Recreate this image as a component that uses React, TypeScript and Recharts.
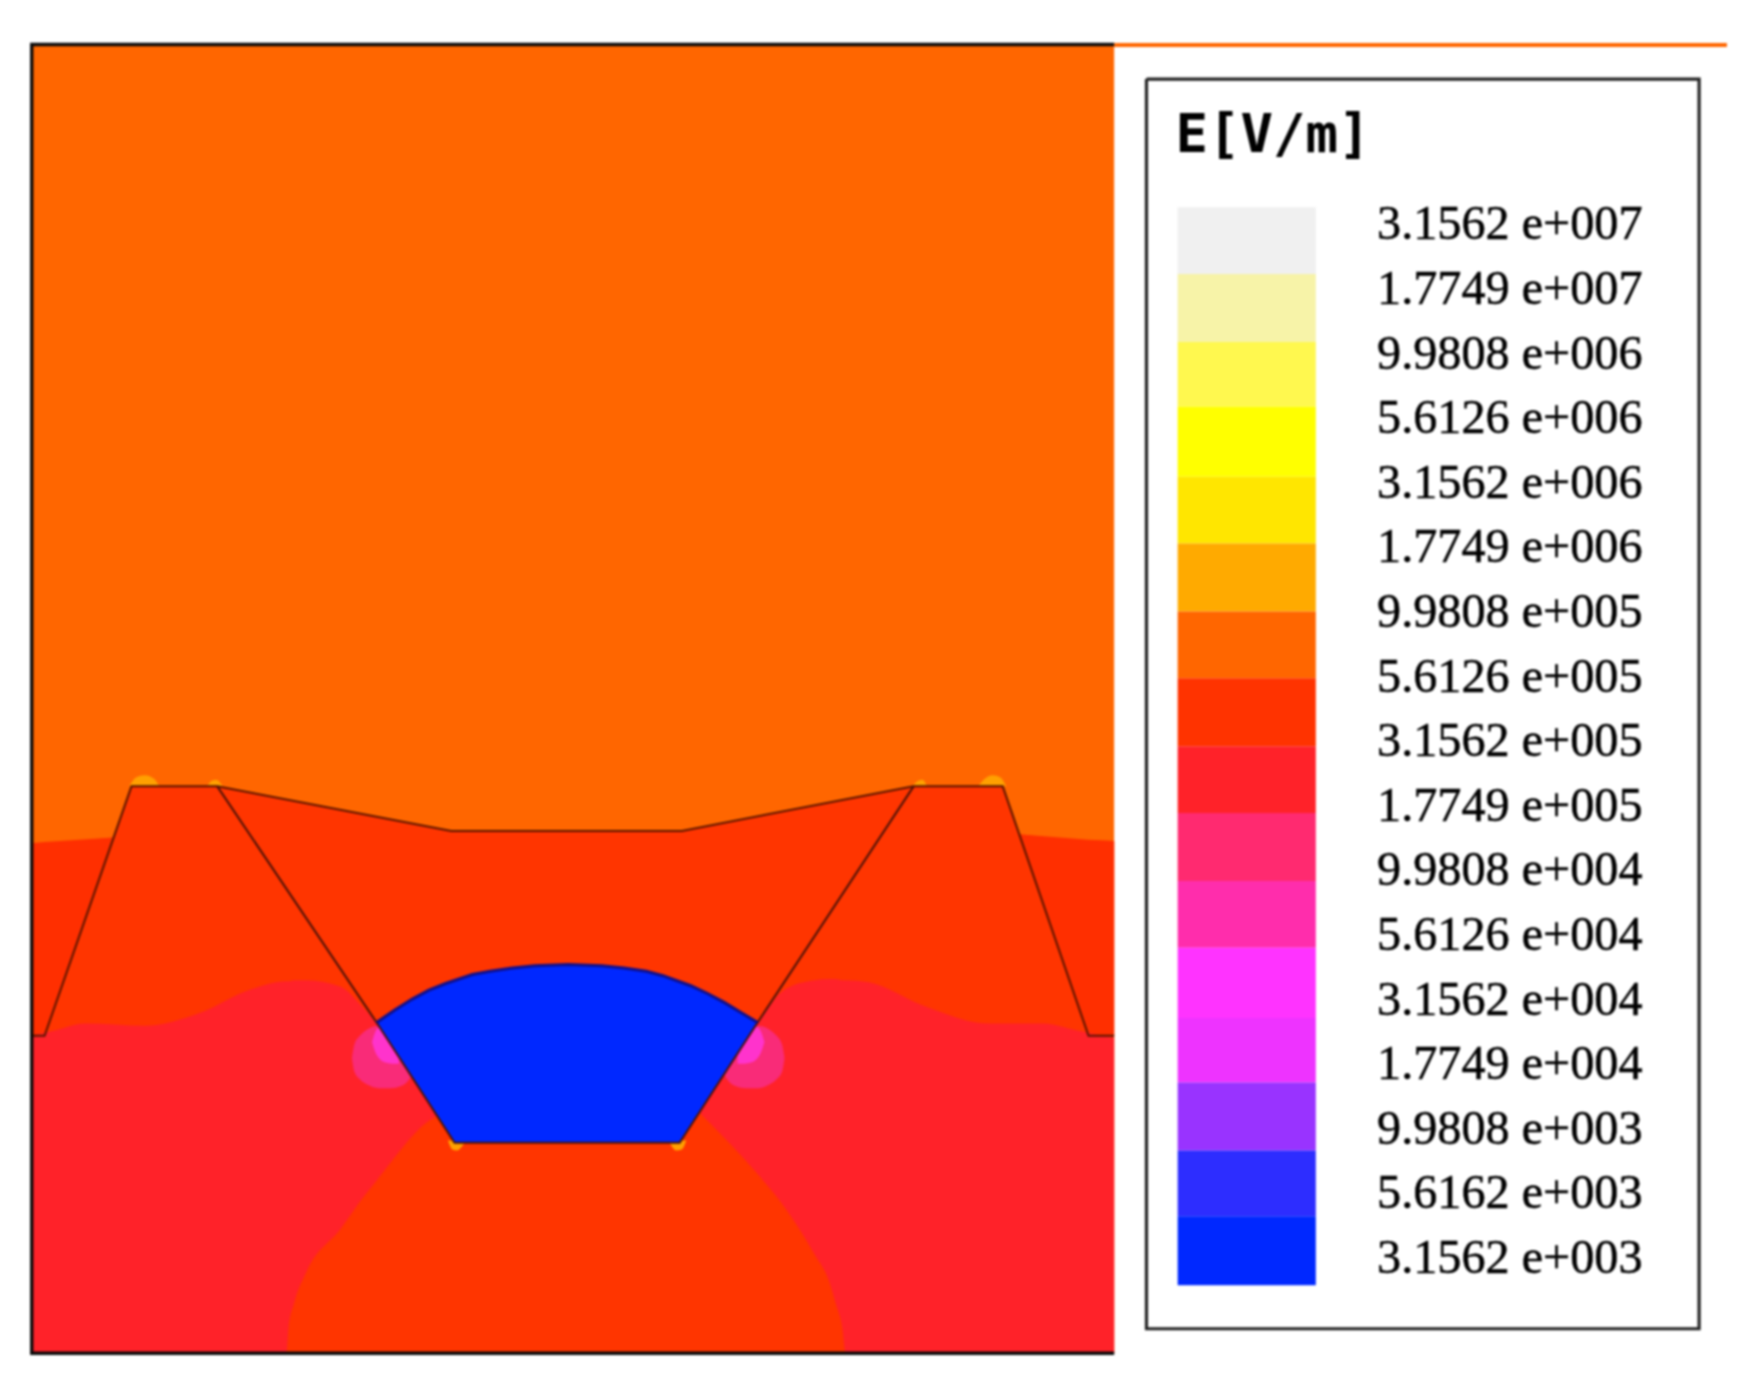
import React from "react";
import { ComposedChart, Area, Line, XAxis, YAxis, LabelList } from "recharts";

type Row = [number, number, number];
const band = (rows: Row[]) => rows.map(([x, lo, hi]) => ({ x, y: [lo, hi] }));
const path = (rows: number[][]) => rows.map(([x, y]) => ({ x, y }));

// Field regions, in reference picture units: [x, top, bottom]
const airField: Row[] = [[28, 40, 1215], [1000, 40, 1215]];
const dielectricField: Row[] = [
  [28, 757, 1215], [60, 756, 1215], [102, 752, 1215], [118, 706, 1215], [195, 706, 1215],
  [405, 746, 1215], [612, 746, 1215], [820, 706, 1215], [900, 706, 1215], [914, 749, 1215],
  [960, 754, 1215], [1000, 755, 1215],
];
const leftStrip: Row[] = [[28, 757, 930], [40, 756, 930], [102, 752, 752]];
const rightStrip: Row[] = [[914, 749, 749], [977, 754, 930], [1000, 755, 930]];
const leftRed: Row[] = [
  [28, 930, 1215], [50, 925, 1215], [76, 919, 1215], [130, 921, 1215], [178, 910, 1215],
  [226, 888, 1215], [257, 881, 1215], [259, 881, 1192], [264, 880, 1170], [275, 880, 1142],
  [306, 886, 1103], [326, 905, 1075], [338, 918, 1060], [387, 994, 1005], [392, 1002, 1002],
];
const rightRed: Row[] = [
  [628, 999, 999], [632, 992, 1003], [679, 920, 1053], [705, 888, 1085], [731, 880, 1126],
  [744, 879, 1150], [750, 879, 1170], [756, 880, 1192], [759, 880, 1215], [780, 882, 1215],
  [829, 903, 1215], [888, 919, 1215], [936, 919, 1215], [966, 925, 1215], [1000, 932, 1215],
];
const leftHalo: Row[] = [
  [316, 949, 951], [318, 938, 962], [323, 930, 969], [330, 924, 974], [340, 921, 977],
  [350, 921, 977], [360, 925, 975], [368, 932, 968], [374, 945, 955],
];
const rightHalo: Row[] = [
  [646, 945, 955], [652, 932, 968], [660, 925, 975], [670, 921, 977], [680, 921, 977],
  [690, 924, 974], [697, 930, 969], [702, 938, 962], [704, 949, 951],
];
const leftCore: Row[] = [
  [334, 935, 936], [337, 926, 945], [341, 922, 951], [346, 921, 954], [352, 921, 955], [358, 930, 955],
];
const rightCore: Row[] = [
  [662, 930, 955], [668, 921, 955], [674, 921, 954], [679, 922, 951], [683, 926, 945], [686, 935, 936],
];
const hotSpots: Row[][] = [
  [[116, 706, 706], [122, 698, 706], [130, 696, 706], [138, 699, 706], [143, 706, 706]],
  [[186, 706, 706], [190, 701, 706], [194, 700, 706], [200, 706, 706]],
  [[819, 706, 706], [824, 701, 706], [828, 700, 706], [832, 706, 706]],
  [[878, 706, 706], [884, 699, 706], [891, 696, 706], [898, 698, 706], [903, 706, 706]],
  [[402, 1024, 1024], [406, 1024, 1032], [410, 1024, 1033], [417, 1026, 1026]],
  [[601, 1026, 1026], [607, 1024, 1033], [612, 1024, 1032], [616, 1024, 1024]],
];
const conductor: Row[] = [
  [338, 918, 918], [354, 907, 943], [370, 897, 967], [385, 889, 990], [400, 883, 1014], [408, 880, 1026],
  [424, 875, 1026], [440, 872, 1026], [460, 869, 1026], [480, 867, 1026], [510, 866, 1026], [540, 867, 1026],
  [560, 869, 1026], [580, 872, 1026], [595, 876, 1026], [610, 881, 1026],
  [620, 885, 1011], [635, 892, 987], [650, 900, 964], [665, 909, 941], [680, 918, 918],
];

// Outlines
const surfaceLine = [
  [28, 930], [40, 930], [118, 706], [195, 706], [405, 746], [612, 746], [820, 706], [900, 706], [977, 930], [1000, 930],
];
const grooveLine = [[195, 706], [338, 918], [408, 1026], [610, 1026], [680, 918], [820, 706]];
const arcLine = [
  [338, 918], [354, 907], [370, 897], [385, 889], [400, 883], [424, 875], [440, 872], [460, 869], [480, 867], [510, 866],
  [540, 867], [560, 869], [580, 872], [595, 876], [620, 885], [635, 892], [650, 900], [665, 909], [680, 918],
];
const frameLine = [[1000, 40], [28.5, 40], [28.5, 1215], [1000, 1215]];
const topRule = [[1000, 40.5], [1550, 40.5]];
const legendBox = [[1029, 71], [1525, 71], [1525, 1193], [1029, 1193], [1029, 71]];

// Legend
const legendTitle = "E[V/m]";
const swatchEdges = [186, 246, 307, 365, 428, 488, 549, 609, 670, 730, 791, 851, 914, 972, 1033, 1092, 1154];
const swatchColors = [
  "#F0F0F0", "#F7F3A8", "#FFF84F", "#FFFF00", "#FFE600", "#FFAA00", "#FF6600", "#FF3300",
  "#FF2229", "#FF2A70", "#FF2DAC", "#FF33FF", "#EE33FF", "#9933FF", "#2D2DFF", "#0028FF",
];
const legendLabels = [
  "3.1562 e+007", "1.7749 e+007", "9.9808 e+006", "5.6126 e+006", "3.1562 e+006", "1.7749 e+006",
  "9.9808 e+005", "5.6126 e+005", "3.1562 e+005", "1.7749 e+005", "9.9808 e+004", "5.6126 e+004",
  "3.1562 e+004", "1.7749 e+004", "9.9808 e+003", "5.6162 e+003", "3.1562 e+003",
];
const labelRows = legendLabels.map((label, i) => ({ x: 1236, y: 199.5 + i * 58, label }));

const fieldLayers: [Row[], string, "linear" | "monotone"][] = [
  [airField, "#FF6600", "linear"],
  [dielectricField, "#FF3500", "linear"],
  [leftStrip, "#FF2F00", "linear"],
  [rightStrip, "#FF2F00", "linear"],
  [leftRed, "#FF2229", "monotone"],
  [rightRed, "#FF2229", "monotone"],
  [leftHalo, "#F92B78", "monotone"],
  [rightHalo, "#F92B78", "monotone"],
  [leftCore, "#FF33CC", "monotone"],
  [rightCore, "#FF33CC", "monotone"],
  ...hotSpots.map((h) => [h, "#FFA000", "monotone"] as [Row[], string, "monotone"]),
  [conductor, "#0028FF", "linear"],
];

const outline = (key: string, rows: number[][], color: string, width: number) => (
  <Line key={key} data={path(rows)} dataKey="y" stroke={color} strokeWidth={width} dot={false} activeDot={false} isAnimationActive={false} strokeLinejoin="miter" />
);

export default function App() {
  return (
    <div style={{ position: "absolute", left: 0, top: 0, width: 1747, height: 1380, filter: "blur(0.8px)" }}>
      <ComposedChart width={1747} height={1380} margin={{ top: 0, right: 0, bottom: 0, left: 0 }}>
        <XAxis hide type="number" dataKey="x" domain={[0, 1568]} allowDataOverflow />
        <YAxis hide type="number" reversed domain={[0, 1239]} allowDataOverflow />
        {fieldLayers.map(([rows, color, curve], i) => (
          <Area key={`f${i}`} data={band(rows)} dataKey="y" type={curve} fill={color} fillOpacity={1} stroke="none" dot={false} activeDot={false} isAnimationActive={false} />
        ))}
        {swatchColors.map((color, i) => (
          <Area
            key={`s${i}`}
            data={band([[1057, swatchEdges[i], swatchEdges[i + 1]], [1181, swatchEdges[i], swatchEdges[i + 1]]])}
            dataKey="y" type="linear" fill={color} fillOpacity={1} stroke="none" dot={false} activeDot={false} isAnimationActive={false}
          />
        ))}
        {outline("surface", surfaceLine, "#5A1500", 2)}
        {outline("groove", grooveLine, "#4A1208", 2)}
        {outline("arc", arcLine, "#10108C", 3)}
        {outline("rule", topRule, "#FF6600", 4)}
        {outline("frame", frameLine, "#0A0A0A", 3.4)}
        {outline("box", legendBox, "#222222", 3.2)}
        <Line data={[{ x: 1055, y: 119, label: legendTitle }]} dataKey="y" stroke="none" dot={false} activeDot={false} isAnimationActive={false}>
          <LabelList dataKey="label" position="right" offset={0} fill="#000" fontSize={54} fontWeight={700} fontFamily="'DejaVu Sans Mono'" />
        </Line>
        <Line data={labelRows} dataKey="y" stroke="none" dot={false} activeDot={false} isAnimationActive={false}>
          <LabelList dataKey="label" position="right" offset={0} fill="#000" stroke="#000" strokeWidth={0.5} fontSize={48.2} fontFamily="'Liberation Serif'" />
        </Line>
      </ComposedChart>
    </div>
  );
}
